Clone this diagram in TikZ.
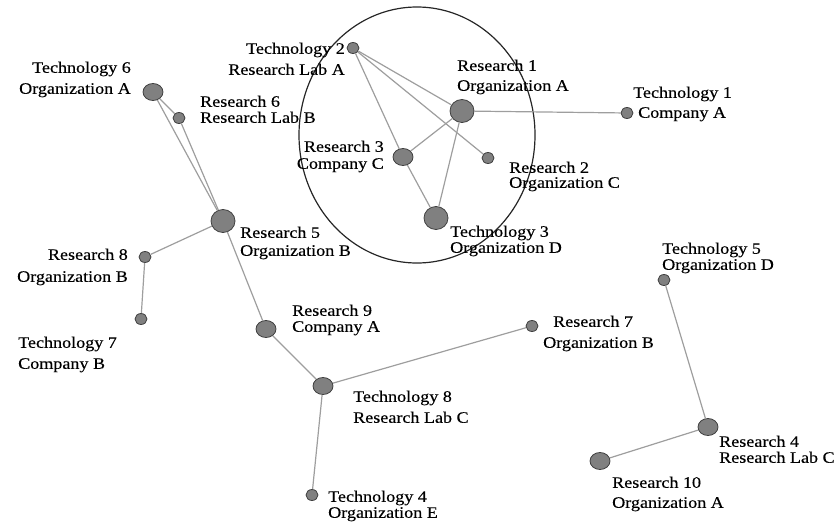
\documentclass[tikz,border=0pt]{standalone}
\usepackage{fontspec}
\setmainfont{Liberation Serif}[FakeStretch=1.13,FakeBold=0.3]
\usetikzlibrary{shapes.geometric}
\begin{document}
\begin{tikzpicture}[x=1pt,y=-1pt,
  vtx/.style={ellipse, draw=black!75, fill=black!50, line width=0.8pt, inner sep=0pt},
  sm/.style={vtx, minimum width=12pt, minimum height=11pt},
  md/.style={vtx, minimum width=20pt, minimum height=17pt},
  bg/.style={vtx, minimum width=24pt, minimum height=23pt},
  lbl/.style={inner sep=0pt, font=\fontsize{16}{16}\selectfont},
  link/.style={draw=black!38, line width=1.2pt}]
\useasboundingbox (0,0) rectangle (838,527);

% cluster ring
\draw[black!85, line width=1.2pt] (417,135) ellipse [x radius=118pt, y radius=128pt];

% vertices
\node[sm] (tII) at (353,48) {};
\node[bg] (rI) at (462,111) {};
\node[sm] (tI) at (627,113) {};
\node[md] (rIII) at (403,157) {};
\node[sm] (rII) at (488,158) {};
\node[bg] (tIII) at (436,218) {};
\node[md] (tVI) at (153,92) {};
\node[sm] (rVI) at (179,118) {};
\node[bg] (rV) at (223,221) {};
\node[sm] (rVIII) at (145,257) {};
\node[sm] (tVII) at (141,319) {};
\node[md] (rIX) at (266,329) {};
\node[md] (tVIII) at (323,386) {};
\node[sm] (rVII) at (532,326) {};
\node[sm] (tIV) at (312,495) {};
\node[sm] (tV) at (664,280) {};
\node[md] (rIV) at (708,427) {};
\node[md] (rX) at (600,461) {};

% links
\draw[link] (tII) -- (rI);
\draw[link] (tII) -- (rII);
\draw[link] (tII) -- (rIII);
\draw[link] (rIII) -- (tIII);
\draw[link] (rI) -- (rIII);
\draw[link] (rI) -- (tIII);
\draw[link] (rI) -- (tI);
\draw[link] (tVI) -- (rV);
\draw[link] (tVI) -- (rVI);
\draw[link] (rVI) -- (rV);
\draw[link] (rV) -- (rVIII);
\draw[link] (rVIII) -- (tVII);
\draw[link] (rV) -- (rIX);
\draw[link] (rIX) -- (tVIII);
\draw[link] (tVIII) -- (rVII);
\draw[link] (tVIII) -- (tIV);
\draw[link] (tV) -- (rIV);
\draw[link] (rIV) -- (rX);

% labels
\node[lbl, anchor=north east, align=right] (LtII) at (345,42.5) {Technology 2\\[5pt]Research Lab A};
\node[lbl, anchor=north west, align=left] (LrI) at (457,59.5) {Research 1\\[4pt]Organization A};
\node[lbl, anchor=north west, align=left] (LtI) at (633,86.5) {Technology 1\\[4pt]\hspace{5pt}Company A};
\node[lbl, anchor=north east, align=right] (LrIII) at (384,140.5) {Research 3\\[1pt]Company C};
\node[lbl, anchor=north west, align=left] (LrII) at (509,161.5) {Research 2\\[-1pt]Organization C};
\node[lbl, anchor=north west, align=left] (LtIII) at (450,225.5) {Technology 3\\Organization D};
\node[lbl, anchor=north east, align=right] (LtVI) at (131,61.5) {Technology 6\\[5pt]Organization A};
\node[lbl, anchor=north west, align=left] (LrVI) at (200,95.5) {Research 6\\Research Lab B};
\node[lbl, anchor=north west, align=left] (LrV) at (240,226.5) {Research 5\\[2pt]Organization B};
\node[lbl, anchor=north east, align=right] (LrVIII) at (128,248.5) {Research 8\\[6pt]Organization B};
\node[lbl, anchor=north west, align=left] (LtVII) at (18,336.5) {Technology 7\\[5pt]Company B};
\node[lbl, anchor=north west, align=left] (LrIX) at (292,304.5) {Research 9\\Company A};
\node[lbl, anchor=north west, align=left] (LtVIII) at (353,390.5) {Technology 8\\[5pt]Research Lab C};
\node[lbl, anchor=north west, align=left] (LrVII) at (543,315.5) {\hspace{10pt}Research 7\\[5pt]Organization B};
\node[lbl, anchor=north west, align=left] (LtIV) at (328,490.5) {Technology 4\\Organization E};
\node[lbl, anchor=north west, align=left] (LtV) at (662,242.5) {Technology 5\\Organization D};
\node[lbl, anchor=north west, align=left] (LrIV) at (719,435.5) {Research 4\\Research Lab C};
\node[lbl, anchor=north west, align=left] (LrX) at (612,476.5) {Research 10\\[4pt]Organization A};
\end{tikzpicture}
\end{document}
